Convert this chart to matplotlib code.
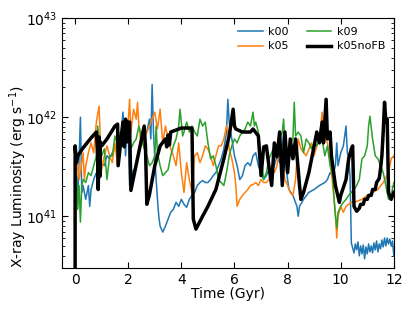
import numpy as np
import matplotlib
matplotlib.use("Agg")
import matplotlib.pyplot as plt

# log10 of X-ray luminosity (erg/s)
t_k00 = [0.0, 0.05, 0.1, 0.15, 0.2, 0.25, 0.3, 0.4, 0.5, 0.55, 0.6, 0.7, 0.8, 0.9, 1.0, 1.1, 1.2, 1.3,
         1.4, 1.5, 1.6, 1.7, 1.75, 1.8, 1.85, 1.9, 1.95, 2.0, 2.05, 2.15, 2.3, 2.4, 2.5, 2.6, 2.7, 2.8,
         2.85, 2.9, 2.95, 3.0, 3.05, 3.1, 3.15, 3.2, 3.3, 3.4, 3.5, 3.6, 3.7, 3.8, 3.9, 4.0, 4.1, 4.2,
         4.3, 4.4, 4.5, 4.6, 4.7, 4.8, 4.9, 5.0, 5.1, 5.2, 5.3, 5.4, 5.5, 5.6, 5.7, 5.75, 5.8, 5.9, 6.0,
         6.1, 6.2, 6.3, 6.4, 6.5, 6.6, 6.7, 6.8, 6.9, 7.0, 7.1, 7.2, 7.3, 7.4, 7.5, 7.6, 7.7, 7.8, 7.85,
         7.9, 8.0, 8.05, 8.2, 8.35, 8.4, 8.45, 8.6, 8.8, 9.0, 9.2, 9.4, 9.5, 9.6, 9.7, 9.8, 9.85, 9.9,
         10.0, 10.1, 10.2, 10.25, 10.3, 10.35, 10.4, 10.45, 10.5, 10.55, 10.6, 10.65, 10.7, 10.75,
         10.8, 10.85, 10.9, 10.95, 11.0, 11.05, 11.1, 11.15, 11.2, 11.25, 11.3, 11.35, 11.4, 11.45,
         11.5, 11.55, 11.6, 11.65, 11.7, 11.75, 11.8, 11.85, 11.9, 11.95, 12.0]
L_k00 = [41.31, 41.44, 41.17, 41.58, 42.00, 41.24, 41.31, 41.17, 41.31, 41.10, 41.27, 41.37, 41.44,
         41.47, 41.54, 41.51, 41.61, 41.58, 41.64, 41.68, 41.71, 41.78, 41.88, 42.05, 41.85, 41.61,
         41.91, 41.85, 41.31, 41.44, 41.51, 41.68, 41.78, 41.81, 41.85, 41.98, 41.78, 42.33, 41.85,
         41.58, 41.37, 41.17, 41.00, 40.90, 40.84, 40.90, 40.97, 41.04, 41.07, 41.14, 41.10, 41.17,
         41.12, 41.09, 41.17, 41.21, 41.24, 41.31, 41.34, 41.36, 41.34, 41.34, 41.37, 41.41, 41.44,
         41.51, 41.58, 41.68, 41.85, 42.18, 41.95, 41.78, 41.61, 41.51, 41.37, 41.41, 41.51, 41.54,
         41.51, 41.61, 41.64, 41.51, 41.44, 41.37, 41.41, 41.47, 41.44, 41.51, 41.61, 41.54, 41.71,
         41.85, 41.58, 41.37, 41.27, 41.21, 41.10, 41.00, 41.10, 41.17, 41.24, 41.27, 41.31, 41.34,
         41.37, 41.44, 41.41, 41.51, 41.74, 41.51, 41.64, 41.71, 41.91, 41.64, 41.58, 41.41, 40.73,
         40.68, 40.63, 40.72, 40.66, 40.74, 40.60, 40.70, 40.62, 40.71, 40.57, 40.69, 40.62, 40.72,
         40.64, 40.70, 40.63, 40.73, 40.66, 40.75, 40.64, 40.72, 40.67, 40.76, 40.69, 40.78, 40.70,
         40.78, 40.72, 40.77, 40.70, 40.75, 40.60]

t_k05 = [0.05, 0.1, 0.15, 0.2, 0.3, 0.35, 0.4, 0.5, 0.6, 0.7, 0.8, 0.9, 0.95, 1.0, 1.1, 1.2, 1.3,
         1.4, 1.5, 1.6, 1.7, 1.8, 1.9, 2.0, 2.05, 2.1, 2.2, 2.3, 2.35, 2.4, 2.5, 2.6, 2.7, 2.8, 2.9,
         3.0, 3.1, 3.2, 3.3, 3.4, 3.5, 3.6, 3.7, 3.8, 3.9, 4.0, 4.1, 4.2, 4.3, 4.4, 4.5, 4.6, 4.7, 4.8,
         4.9, 5.0, 5.1, 5.2, 5.3, 5.4, 5.5, 5.6, 5.7, 5.75, 5.8, 5.9, 6.0, 6.05, 6.1, 6.2, 6.3, 6.4,
         6.5, 6.6, 6.7, 6.8, 6.9, 7.0, 7.1, 7.2, 7.3, 7.4, 7.5, 7.6, 7.7, 7.8, 7.85, 7.9, 8.0, 8.1,
         8.2, 8.3, 8.4, 8.5, 8.7, 8.9, 9.0, 9.1, 9.2, 9.3, 9.35, 9.4, 9.5, 9.6, 9.7, 9.8, 9.85, 9.9,
         10.0, 10.1, 10.2, 10.4, 10.6, 10.8, 11.0, 11.2, 11.4, 11.6, 11.8, 11.9, 12.0]
L_k05 = [41.41, 41.58, 41.37, 41.44, 41.64, 41.37, 41.51, 41.64, 41.74, 41.64, 41.95, 42.11,
         41.78, 41.47, 41.61, 41.71, 41.61, 41.54, 41.74, 41.51, 41.71, 41.88, 41.85, 41.95, 42.18,
         41.85, 42.08, 41.98, 42.15, 41.91, 41.71, 41.78, 41.85, 41.91, 41.98, 42.05, 41.88, 42.08,
         41.74, 41.91, 41.78, 41.68, 41.61, 41.51, 41.74, 41.44, 41.24, 41.54, 41.37, 41.24, 41.61,
         41.64, 41.54, 41.61, 41.71, 41.68, 41.61, 41.51, 41.61, 41.71, 41.71, 41.78, 41.91, 41.85,
         41.68, 41.58, 41.44, 41.31, 41.10, 41.17, 41.21, 41.24, 41.27, 41.31, 41.32, 41.34, 41.31,
         41.37, 41.34, 41.34, 41.37, 41.51, 41.44, 41.51, 41.71, 41.64, 41.44, 41.37, 41.31, 41.24,
         41.21, 41.37, 41.78, 41.68, 41.61, 41.74, 41.61, 41.71, 41.78, 42.05, 41.85, 41.78, 41.74,
         41.58, 41.31, 41.04, 40.78, 41.00, 41.10, 41.04, 41.10, 41.14, 41.15, 41.17, 41.21, 41.24,
         41.27, 41.34, 41.44, 41.58, 41.61]

t_k09 = [0.0, 0.05, 0.1, 0.15, 0.2, 0.25, 0.3, 0.4, 0.5, 0.6, 0.7, 0.8, 0.85, 0.9, 1.0, 1.1, 1.2,
         1.3, 1.4, 1.5, 1.6, 1.7, 1.8, 1.9, 2.0, 2.1, 2.2, 2.3, 2.4, 2.5, 2.6, 2.7, 2.8, 2.9, 3.0, 3.05,
         3.1, 3.2, 3.3, 3.4, 3.5, 3.6, 3.7, 3.8, 3.9, 3.95, 4.05, 4.1, 4.2, 4.3, 4.4, 4.5, 4.6, 4.7,
         4.8, 4.9, 5.0, 5.1, 5.2, 5.3, 5.4, 5.5, 5.6, 5.7, 5.8, 5.9, 6.0, 6.1, 6.2, 6.3, 6.4, 6.5, 6.6,
         6.7, 6.75, 6.8, 6.9, 7.0, 7.1, 7.2, 7.3, 7.4, 7.5, 7.6, 7.7, 7.8, 7.85, 7.9, 8.0, 8.1, 8.2,
         8.25, 8.3, 8.4, 8.5, 8.6, 8.7, 8.8, 8.9, 9.0, 9.1, 9.2, 9.3, 9.4, 9.5, 9.6, 9.7, 9.75, 9.8,
         9.85, 9.9, 10.0, 10.1, 10.2, 10.3, 10.4, 10.5, 10.6, 10.7, 10.8, 10.9, 11.0, 11.05, 11.1,
         11.2, 11.3, 11.4, 11.5, 11.6, 11.7, 11.8, 11.9, 12.0]
L_k09 = [41.24, 41.37, 41.07, 41.31, 40.94, 41.31, 41.37, 41.34, 41.44, 41.41, 41.51, 41.61,
         41.91, 41.78, 41.61, 41.68, 41.37, 41.61, 41.61, 41.81, 41.71, 41.85, 41.71, 41.78, 41.85,
         41.68, 41.74, 41.78, 41.91, 41.81, 41.68, 41.61, 41.51, 41.54, 41.61, 41.91, 41.64, 41.51,
         41.41, 41.44, 41.47, 41.61, 41.71, 41.78, 41.91, 42.08, 41.81, 41.85, 41.95, 41.85, 41.91,
         41.85, 41.81, 41.98, 41.91, 41.95, 41.74, 41.58, 41.61, 41.51, 41.37, 41.34, 41.31, 41.44,
         41.61, 41.71, 41.78, 41.74, 41.81, 41.85, 41.88, 41.95, 41.91, 42.05, 41.91, 41.95, 41.85,
         41.61, 41.37, 41.44, 41.58, 41.64, 41.71, 41.71, 41.78, 41.85, 41.98, 41.74, 41.64, 41.74,
         41.78, 42.15, 41.81, 41.85, 41.81, 41.64, 41.78, 41.74, 41.68, 41.74, 41.71, 41.81, 41.78,
         41.61, 41.71, 41.51, 41.41, 41.17, 41.00, 40.88, 41.04, 41.10, 41.14, 41.17, 41.21, 41.24,
         41.27, 41.31, 41.37, 41.58, 41.61, 41.71, 41.91, 42.01, 41.78, 41.61, 41.58, 41.51, 41.44,
         41.31, 41.17, 41.21, 41.34]

t_noFB = [0.0, 0.0, 0.05, 0.1, 0.3, 0.6, 0.8, 0.85, 0.87, 0.9, 0.93, 0.95, 1.0, 1.2, 1.5, 1.6,
          1.62, 1.8, 1.85, 1.9, 1.95, 2.0, 2.05, 2.1, 2.6, 2.65, 2.7, 2.8, 3.0, 3.2, 3.4, 3.45, 3.5,
          3.55, 3.6, 4.0, 4.4, 4.45, 4.55, 4.8, 5.0, 5.3, 5.6, 5.8, 5.95, 6.0, 6.05, 6.3, 6.6, 6.7,
          6.9, 7.0, 7.1, 7.2, 7.3, 7.4, 7.5, 7.6, 7.7, 7.8, 7.9, 8.0, 8.1, 8.2, 8.3, 8.45, 8.5, 8.6,
          8.8, 9.0, 9.1, 9.2, 9.3, 9.35, 9.45, 9.5, 9.6, 9.65, 9.8, 9.95, 10.0, 10.2, 10.3, 10.4,
          10.45, 10.5, 10.6, 10.7, 10.75, 10.85, 10.9, 11.0, 11.05, 11.15, 11.2, 11.3, 11.35, 11.45,
          11.5, 11.55, 11.6, 11.65, 11.7, 11.75, 11.8, 11.9, 12.0]
L_noFB = [40.30, 41.71, 41.54, 41.61, 41.69, 41.79, 41.85, 41.60, 41.27, 41.80, 41.40, 41.75,
          41.71, 41.78, 41.91, 41.93, 41.51, 41.95, 41.70, 41.98, 41.75, 41.95, 41.95, 41.26,
          41.91, 41.70, 41.12, 41.22, 41.51, 41.71, 41.78, 41.70, 41.82, 41.72, 41.85, 41.89,
          41.89, 40.97, 40.87, 41.00, 41.10, 41.27, 41.58, 41.81, 42.08, 41.91, 41.88, 41.85,
          41.85, 41.88, 41.81, 41.41, 41.70, 41.71, 41.50, 41.31, 41.74, 41.60, 41.85, 41.31,
          41.85, 41.44, 41.78, 41.58, 41.78, 41.31, 41.17, 41.24, 41.44, 41.71, 41.85, 41.74,
          41.95, 41.74, 42.18, 41.78, 41.85, 41.61, 41.31, 41.14, 41.21, 41.37, 41.58, 41.68,
          41.71, 41.10, 41.05, 41.08, 41.12, 41.12, 41.17, 41.17, 41.21, 41.21, 41.27, 41.27,
          41.34, 41.38, 41.48, 41.61, 41.85, 42.15, 41.95, 41.98, 41.24, 41.17, 41.24]

series = [
    ("k00", t_k00, L_k00, "#1f77b4", 1.1),
    ("k05", t_k05, L_k05, "#ff7f0e", 1.1),
    ("k09", t_k09, L_k09, "#2ca02c", 1.1),
    ("k05noFB", t_noFB, L_noFB, "black", 2.5),
]

fig = plt.figure(figsize=(4.15, 3.12), dpi=100)
ax = fig.add_axes([0.149, 0.141, 0.80, 0.801])

for name, t, L, c, lw in series:
    n = min(len(t), len(L))
    ax.plot(t[:n], 10 ** np.array(L[:n]), color=c, lw=lw, label=name)

ax.set_yscale("log")
ax.set_xlim(-0.5, 12)
ax.set_ylim(3e40, 1e43)
ax.set_xticks([0, 2, 4, 6, 8, 10, 12])
ax.tick_params(which="both", direction="in", top=True, right=True, labelsize=10)
ax.tick_params(which="major", length=4)
ax.tick_params(which="minor", length=2)
ax.set_xlabel("Time (Gyr)", fontsize=10, labelpad=0)
ax.set_ylabel("X-ray Luminosity (erg s$^{-1}$)", fontsize=10)
ax.yaxis.set_label_coords(-0.10, 0.365)
ax.legend(ncol=2, loc="upper right", frameon=False, fontsize=8,
          handlelength=2.2, columnspacing=1.6, handletextpad=0.5, labelspacing=0.4,
          borderaxespad=0.4)

fig.savefig("out.png", dpi=100)
